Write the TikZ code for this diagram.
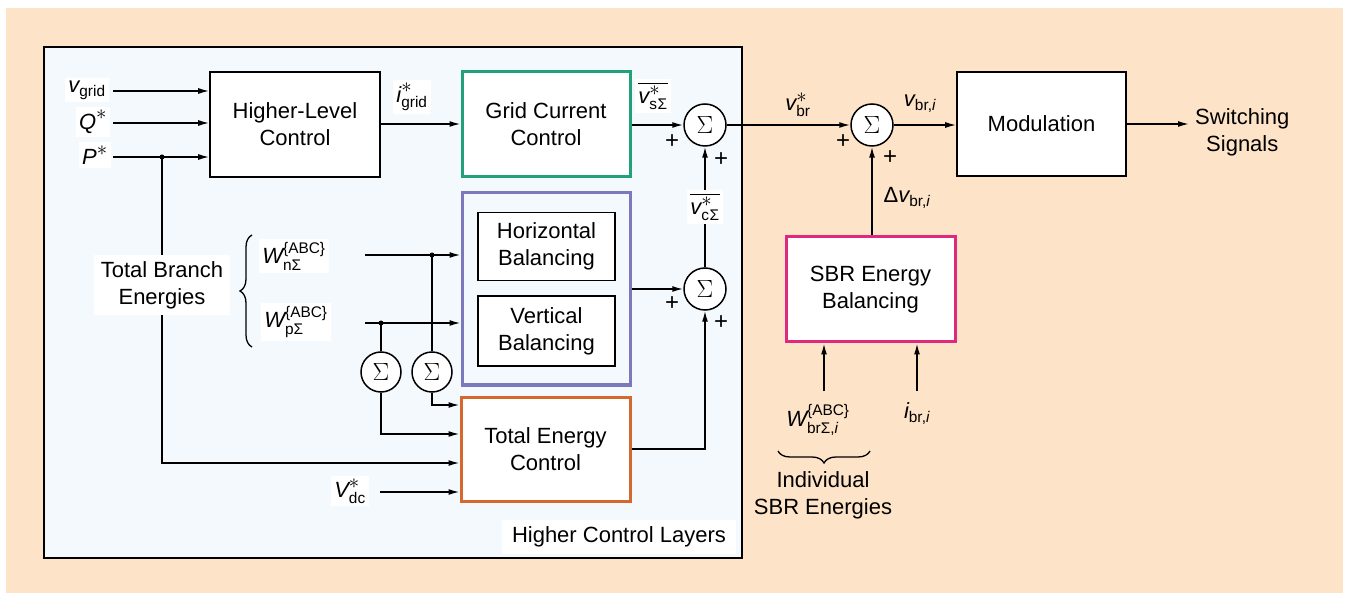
\documentclass[tikz,border=0pt]{standalone}
\usepackage{amsmath}
\usepackage{fontspec}
\setmainfont{Liberation Sans}
\usetikzlibrary{arrows.meta,decorations.pathreplacing,calc}
\definecolor{peach}{HTML}{FDE3C7}
\definecolor{paleblue}{HTML}{F3F9FC}
\definecolor{gccgreen}{HTML}{22A079}
\definecolor{balpurple}{HTML}{7C78BE}
\definecolor{tecorange}{HTML}{D5692D}
\definecolor{sbrpink}{HTML}{E0297E}
\newcommand{\bigast}{{\textstyle\ast}}
\tikzset{
  every node/.style={font=\fontsize{22}{27}\selectfont},
  blk/.style={draw, line width=1.6pt, fill=white, align=center, inner sep=0pt},
  cbox/.style={blk, line width=3pt},
  sumc/.style={circle, draw, line width=1.5pt, fill=white, minimum size=42pt, inner sep=0pt, font=\fontsize{26}{26}\selectfont},
  ssum/.style={sumc, minimum size=40pt},
  lbl/.style={fill=white, inner sep=3pt},
  plain/.style={inner sep=1pt},
  pls/.style={inner sep=1pt, font=\fontsize{24}{24}\selectfont},
  arr/.style={line width=1.5pt, -{Latex[length=11pt,width=6pt]}},
  ln/.style={line width=1.5pt},
  jdot/.style={circle, fill=black, inner sep=0pt, minimum size=5pt},
  brc/.style={decorate, decoration={brace, amplitude=12pt}, line width=1.3pt},
}
\begin{document}
\begin{tikzpicture}[x=1pt,y=-1pt]
\useasboundingbox (0,0) rectangle (1349,593);
\fill[peach] (6,8) rectangle (1343,593);
\draw[line width=1.6pt, fill=paleblue] (44,47) rectangle (742,558);
\node[fill=white, inner xsep=10pt, inner ysep=7pt] (hcl) at (619,537) {Higher Control Layers};

% blocks
\node[blk, minimum width=170pt, minimum height=105pt] (hlc) at (295,124.5) {Higher-Level\\Control};
\node[cbox, draw=gccgreen, minimum width=168pt, minimum height=105pt] (gcc) at (546,124.5) {Grid Current\\Control};
\node[draw=balpurple, line width=3pt, minimum width=168pt, minimum height=192pt, inner sep=0pt] (bal) at (546,289) {};
\node[blk, minimum width=137pt, minimum height=68pt] (hb) at (546.5,246.5) {Horizontal\\Balancing};
\node[blk, minimum width=137pt, minimum height=70pt] (vb) at (546.5,331) {Vertical\\Balancing};
\node[cbox, draw=tecorange, minimum width=169pt, minimum height=104pt] (tec) at (545.5,449) {Total Energy\\Control};
\node[blk, minimum width=169pt, minimum height=104pt] (mod) at (1041.5,124) {Modulation};
\node[cbox, draw=sbrpink, minimum width=169pt, minimum height=105pt] (sbr) at (870.5,289.5) {SBR Energy\\Balancing};

% summing junctions
\node[sumc] (s1) at (705,125) {$\Sigma$};
\node[sumc] (s2) at (705,289) {$\Sigma$};
\node[sumc] (s3) at (872,125) {$\Sigma$};
\node[ssum] (sa) at (381,372) {$\Sigma$};
\node[ssum] (sb) at (432,372) {$\Sigma$};

% inputs to higher-level control
\node[lbl] (lvg) at (87,90) {$\textit{v}_{\text{grid}}$};
\node[lbl] (lq) at (93,122) {$\textit{Q}^{\bigast}$};
\node[lbl] (lp) at (95,155) {$\textit{P}^{\bigast}$};
\coordinate (cvg) at (113,91);
\coordinate (cq) at (113,123);
\coordinate (cp) at (113,157);
\draw[arr] (cvg) -- (cvg -| hlc.west);
\draw[arr] (cq) -- (cq -| hlc.west);
\draw[arr] (cp) -- (cp -| hlc.west);
\node[jdot] (pd) at (162,157) {};
\coordinate (pcorner) at (162,463);
\draw[arr] (pd.center) -- (pcorner) -- (pcorner -| tec.west);
\node[lbl, align=center, inner xsep=7pt, inner ysep=6pt] (tbe) at (162,285) {Total Branch\\Energies};

% higher-level -> grid current
\draw[arr] (hlc.east |- 0,124) -- (gcc.west |- 0,124);
\node[lbl] (lig) at (412,97) {$\textit{i}^{\bigast}_{\text{grid}}$};

% grid current -> s1
\draw[arr] (gcc.east |- s1) -- (s1.west);
\node[lbl] (lvs) at (653,96) {$\overline{\textit{v}^{\bigast}_{\text{s\kern0.5pt Σ}}}$};
\node[pls] at (672,142) {+};
\node[pls] at (721,160) {+};
\draw[arr] (s2.north) -- node[lbl] (lvc) {$\overline{\textit{v}^{\bigast}_{\text{c\kern0.5pt Σ}}}$} (s1.south);

% balancing -> s2
\draw[arr] (bal.east |- s2) -- (s2.west);
\node[pls] at (672,304) {+};
\node[pls] at (721,323) {+};
\draw[arr] (tec.east) -- (tec.east -| s2) -- (s2.south);

% branch energies
\draw[brc] (252,347) -- (252,235);
\node[lbl] (lwn) at (294,256) {$\textit{W}^{\text{\{ABC\}}}_{\text{nΣ}}$};
\node[lbl] (lwp) at (296,322) {$\textit{W}^{\text{\{ABC\}}}_{\text{pΣ}}$};
\coordinate (cwn) at (365,255);
\coordinate (cwp) at (365,323);
\draw[arr] (cwn) -- (cwn -| bal.west);
\draw[arr] (cwp) -- (cwp -| bal.west);
\node[jdot] (dn) at (432,255) {};
\node[jdot] (dp) at (381,323) {};
\draw[ln] (dn.center) -- (sb.north);
\draw[ln] (dp.center) -- (sa.north);
\draw[arr] (sb.south) -- (sb.south |- 0,405) -- (tec.west |- 0,405);
\draw[arr] (sa.south) -- (sa.south |- 0,434) -- (tec.west |- 0,434);

% Vdc
\node[lbl] (lvdc) at (350,491) {$\textit{V}^{\bigast}_{\text{dc}}$};
\coordinate (cvdc) at (380,492);
\draw[arr] (cvdc) -- (cvdc -| tec.west);

% right part
\draw[arr] (s1.east) -- (s3.west);
\node[plain] (lvbr) at (798,105) {$\textit{v}^{\bigast}_{\text{br}}$};
\node[pls] at (843,142) {+};
\node[pls] at (890,158) {+};
\draw[arr] (s3.east) -- (s3.east -| mod.west);
\node[plain] (lvbri) at (920,104) {$\textit{v}_{\text{br,}\textit{i}}$};
\draw[arr] (s3 |- sbr.north) -- (s3.south);
\node[plain] (ldv) at (907,198) {$\text{Δ}\textit{v}_{\text{br,}\textit{i}}$};
\coordinate (csw) at (1189,124);
\draw[arr] (mod.east |- csw) -- (csw);
\node[plain, align=center, anchor=west] (lsw) at (1194,132) {Switching\\Signals};

% SBR inputs
\coordinate (cw1) at (824,391);
\coordinate (cw2) at (917,391);
\draw[arr] (cw1) -- (cw1 |- sbr.south);
\draw[arr] (cw2) -- (cw2 |- sbr.south);
\node[plain] (lwbr) at (818,420) {$\textit{W}^{\text{\{ABC\}}}_{\text{brΣ,}\textit{i}}$};
\node[plain] (libr) at (917,414) {$\textit{i}_{\text{br,}\textit{i}}$};
\draw[brc] (870,451) -- (778,451);
\node[plain, align=center] (lind) at (823,495) {Individual\\SBR Energies};
\end{tikzpicture}
\end{document}
